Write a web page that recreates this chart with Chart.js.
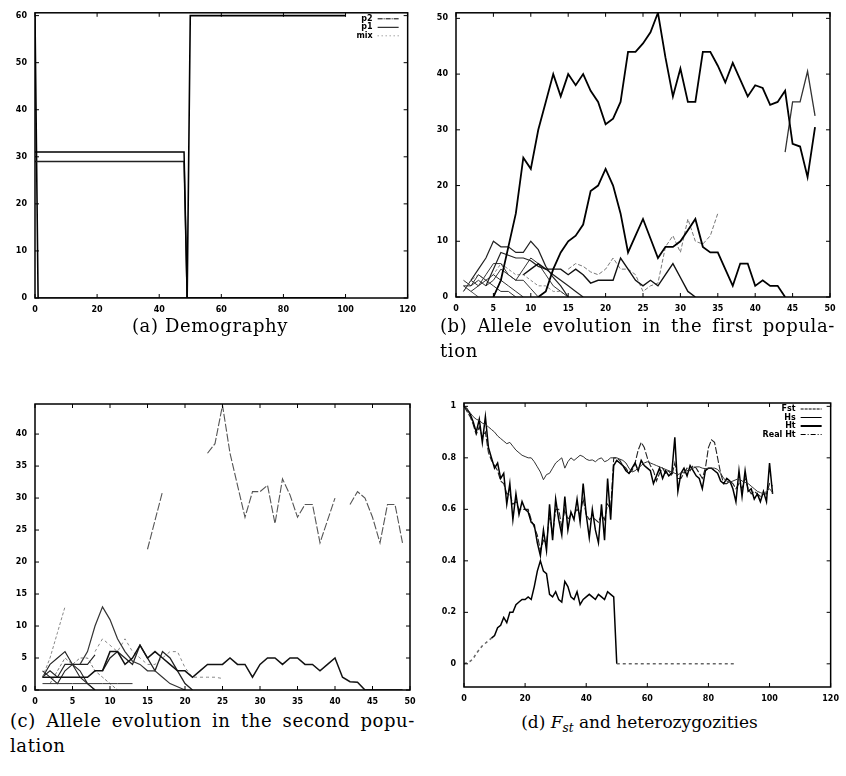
<!DOCTYPE html>
<html>
<head>
<meta charset="utf-8">
<script src="https://cdn.jsdelivr.net/npm/chart.js@4.4.1/dist/chart.umd.min.js"></script>
<style>
  body { margin: 0; background: #fff; width: 846px; height: 776px; position: relative; overflow: hidden; }
  .box { position: absolute; width: 423px; height: 318px; }
  .cap { position: absolute; font-family: 'DejaVu Serif', serif; font-size: 18px; line-height: 25px; color: #000; letter-spacing: 0.6px; }
  .just { text-align: justify; text-align-last: justify; }
</style>
</head>
<body>
<div class="box" style="left:0;top:0"><canvas id="chartA" width="423" height="318"></canvas></div>
<div class="box" style="left:423px;top:0"><canvas id="chartB" width="423" height="318"></canvas></div>
<div class="box" style="left:0;top:390px"><canvas id="chartC" width="423" height="318"></canvas></div>
<div class="box" style="left:423px;top:390px"><canvas id="chartD" width="423" height="318"></canvas></div>

<div class="cap" style="left:0;top:313px;width:420px;text-align:center">(a) Demography</div>
<div class="cap" style="left:440px;top:313px;width:395px">
  <div class="just">(b) Allele evolution in the first popula-</div>
  <div>tion</div>
</div>
<div class="cap" style="left:10px;top:708px;width:405px">
  <div class="just">(c) Allele evolution in the second popu-</div>
  <div>lation</div>
</div>
<div class="cap" style="left:428px;top:710px;width:423px;text-align:center;font-size:17px;letter-spacing:0">(d) <i>F<sub style="font-size:12px">st</sub></i> and heterozygozities</div>

<script>
const _ = null;

// (a) demography: step values at the generations where they change
const aGen = [0, 48, 49, 100];
const aP2 = [31, 31, 0, 0];
const aP1 = [29, 29, 0, 0];
const aMixGen = [0, 1, 49, 50, 100];
const aMix = [60, 0, 0, 60, 60];
const aXTicks = [0, 20, 40, 60, 80, 100, 120];
const aYTicks = [0, 10, 20, 30, 40, 50, 60];

// (b) allele counts in the first population, index = generation
const bMain = [_,_,_,_,_,0,3,9,15,25,23,30,35,40,36,40,38,40,37,35,31,32,35,44,44,45.5,47.5,51,43,36,41,35,35,44,44,41.5,38.5,42,39,36,38,37.5,34.5,35,37,27.5,27,21.5,30.5];
const bTail = [_,_,_,_,_,_,_,_,_,_,_,_,_,_,_,_,_,_,_,_,_,_,_,_,_,_,_,_,_,_,_,_,_,_,_,_,_,_,_,_,_,_,_,_,26,35,35,40.5,32.5];
const bSecond = [_,_,_,_,_,_,_,_,_,_,_,0,1,5,8,10,11,13,19,20,23,20,15,8,11,14,10.5,7,9,9,10,12,14,9,8,8,5,2,6,6,2,3,2,2,0];
const bLow1 = [_,_,_,_,_,_,_,_,_,4,5,6,5,5,5,4,5,4,2.5,3,3,3,7,5,3,2,3,2,4,6,3.5,1,0];
const bLow2 = [_,_,3,5,7,10,9,9,8,8,10,8.5,5.5,3.5,2,0];
const bLow3 = [_,_,_,_,_,_,_,_,_,_,_,_,_,_,_,5,6,5.5,4.5,4,5,7,5,5,4,1,2,2.5,9,11,8,14,10,9.5,11,15];
const bLow4 = [_,_,_,_,2,5,8,7.5,7,7,6.5,5.5,5,4,3,2,1,0];
const bLow5 = [_,1,3,2,4,6,6,4,3,3,1.5,0];
const bLow6 = [_,2,2,3,2,3,5,4,3,5,7,6,4,2,1,0];
const bLow7 = [_,2,1,2,3,4,3,2,1,0];
const bLow8 = [_,3,2,4,3,2,1,1,0];
const bLow9 = [_,1,3,4,3,4,6,5,4,4,3,2,2,1,1,0];
const bLow10 = [_,_,1,0];
const bXTicks = [0, 5, 10, 15, 20, 25, 30, 35, 40, 45, 50];
const bYTicks = [0, 10, 20, 30, 40, 50];

// (c) allele counts in the second population
const cTop = [_,_,_,_,_,_,_,_,_,_,_,_,_,_,_,22,26.5,31,_,_,_,_,_,37,38.5,44.5,37,32,27,31,31,32,26,33,30.5,27,29,29,23,26.5,30,_,29,31,30,27,23,29,29,23];
const cLong = [_,2,2,2,2,2,2,2,3,3,6,6,4,5,7,5,6,5,4,3,3,2,3,4,4,4,5,4,4,2,4,5,5,4,5,5,4,4,3,4,5,2,1.3,1.2,0,0,0,0,0,0];
const cPeak = [_,_,_,_,_,_,4,6,10,13,11,8,6,4.5,4,3,3,2,1,0.5,0];
const cMid = [_,_,_,_,_,_,_,_,_,3,5,6,5,4,7,5,3,6,5,3,1,0];
const cRise = [_,2,5,9,13];
const cLow1 = [_,2,3,2,4,4,4,4,5.5];
const cLow2 = [_,2,4,5,6,4,2,1,0];
const cLow3 = [_,1,1,1,1,1,1,1,1,1,1,1,1,1];
const cLow4 = [_,3,2,1,3,4,3,1,0];
const cLow5 = [_,_,1,3,5,4,5,5,3,2,1,0];
const cLow6 = [_,_,_,_,_,_,_,_,6,8,7,6,8,6,5,4,4,5,6,6,3.5,2,2,2,2,1.8];
const cXTicks = [0, 5, 10, 15, 20, 25, 30, 35, 40, 45, 50];
const cYTicks = [0, 5, 10, 15, 20, 25, 30, 35, 40];

// (d) Fst and heterozygosities, index = generation
const dFst = [
  0,0.005,0.01,0.02,0.04,0.055,0.07,0.08,0.09,0.1,
  0.11,0.14,0.15,0.18,0.16,0.2,0.2,0.23,0.24,0.25,
  0.25,0.26,0.25,0.3,0.36,0.4,0.36,0.35,0.27,0.26,
  0.28,0.25,0.24,0.32,0.3,0.26,0.25,0.28,0.23,0.25,
  0.26,0.27,0.26,0.25,0.27,0.26,0.25,0.28,0.27,0.26,
  0,0,0,0,0,0,0,0,0,0, 0,0,0,0,0,0,0,0,0,0,
  0,0,0,0,0,0,0,0,0,0, 0,0,0,0,0,0,0,0,0,0];
const dHs = [
  1,0.99,0.975,0.96,0.95,0.945,0.935,0.93,0.92,0.91,
  0.9,0.885,0.875,0.865,0.855,0.86,0.845,0.83,0.82,0.81,
  0.805,0.8,0.8,0.785,0.765,0.745,0.715,0.735,0.74,0.76,
  0.78,0.79,0.8,0.76,0.785,0.8,0.79,0.8,0.81,0.805,
  0.795,0.79,0.792,0.785,0.795,0.8,0.785,0.79,0.8,0.8,
  0.8,0.795,0.79,0.78,0.76,0.745,0.75,0.76,0.77,0.78,
  0.785,0.78,0.775,0.77,0.765,0.76,0.755,0.75,0.745,0.74,
  0.735,0.74,0.745,0.75,0.755,0.76,0.765,0.765,0.76,0.758,
  0.76,0.76,0.76,0.755,0.74,0.72,0.71,0.705,0.71,0.715,
  0.72,0.71,0.705,0.7,0.69,0.68,0.67,0.665,0.66,0.67,
  0.68,0.665];
const dHt = [
  1,0.99,0.97,0.94,0.9,0.95,0.86,0.96,0.84,0.8,
  0.76,0.78,0.72,0.74,0.62,0.7,0.56,0.66,0.58,0.63,
  0.6,0.59,0.55,0.54,0.47,0.42,0.52,0.44,0.62,0.48,
  0.64,0.56,0.5,0.65,0.52,0.59,0.56,0.64,0.55,0.7,
  0.58,0.49,0.6,0.52,0.47,0.62,0.48,0.72,0.56,0.77,
  0.79,0.78,0.77,0.75,0.74,0.76,0.78,0.75,0.79,0.77,
  0.76,0.75,0.7,0.73,0.76,0.72,0.75,0.73,0.74,0.88,
  0.67,0.74,0.76,0.73,0.77,0.75,0.73,0.72,0.68,0.75,
  0.76,0.76,0.75,0.74,0.71,0.7,0.72,0.71,0.68,0.63,
  0.75,0.65,0.75,0.67,0.68,0.64,0.66,0.63,0.67,0.63,
  0.78,0.66];
const dRealHt = [
  1,0.98,0.96,0.93,0.89,0.92,0.88,0.9,0.82,0.79,
  0.77,0.75,0.71,0.7,0.66,0.66,0.62,0.63,0.6,0.6,
  0.6,0.6,0.56,0.53,0.5,0.44,0.48,0.47,0.58,0.5,
  0.6,0.6,0.53,0.6,0.56,0.58,0.58,0.6,0.58,0.64,
  0.58,0.56,0.57,0.56,0.55,0.58,0.56,0.62,0.6,0.8,
  0.8,0.79,0.77,0.76,0.74,0.75,0.78,0.83,0.86,0.84,
  0.8,0.77,0.75,0.71,0.74,0.76,0.74,0.75,0.73,0.78,
  0.72,0.72,0.74,0.76,0.75,0.77,0.76,0.74,0.72,0.76,
  0.84,0.87,0.86,0.8,0.74,0.7,0.7,0.71,0.7,0.68,
  0.7,0.68,0.72,0.68,0.66,0.67,0.66,0.65,0.66,0.66,
  0.7,0.69];
const dXTicks = [0, 20, 40, 60, 80, 100, 120];
const dYTicks = [0, 0.2, 0.4, 0.6, 0.8, 1];

const tickFont = { family: 'DejaVu Sans', size: 8, weight: 'bold' };

function pts(arr) {
  return arr.map((y, x) => ({ x: x, y: y }));
}

function pairs(xs, ys) {
  return xs.map((x, i) => ({ x: x, y: ys[i] }));
}

function line(data, color, width, dash) {
  return { data: data, borderColor: color, borderWidth: width, borderDash: dash || [],
           pointRadius: 0, tension: 0, fill: false, spanGaps: false };
}

// gnuplot style box, inward tick marks and key in the top right corner
const gnuFrame = {
  id: 'gnuFrame',
  afterDraw(chart, args, opts) {
    const ctx = chart.ctx, a = chart.chartArea, sx = chart.scales.x, sy = chart.scales.y;
    ctx.save();
    ctx.strokeStyle = '#000';
    ctx.lineWidth = 1.5;
    ctx.setLineDash([]);
    ctx.strokeRect(a.left, a.top, a.right - a.left, a.bottom - a.top);
    ctx.lineWidth = 1;
    ctx.beginPath();
    sx.ticks.forEach(t => {
      const p = sx.getPixelForValue(t.value);
      ctx.moveTo(p, a.bottom); ctx.lineTo(p, a.bottom - 4);
      ctx.moveTo(p, a.top); ctx.lineTo(p, a.top + 4);
    });
    sy.ticks.forEach(t => {
      const p = sy.getPixelForValue(t.value);
      ctx.moveTo(a.left, p); ctx.lineTo(a.left + 4, p);
      ctx.moveTo(a.right, p); ctx.lineTo(a.right - 4, p);
    });
    ctx.stroke();
    (opts.items || []).forEach((it, i) => {
      const y = a.top + 6 + i * 8.5;
      ctx.fillStyle = '#000';
      ctx.font = 'bold 8px "DejaVu Sans"';
      ctx.textAlign = 'right';
      ctx.textBaseline = 'middle';
      ctx.fillText(it.label, a.right - 35, y);
      ctx.strokeStyle = it.color || '#000';
      ctx.lineWidth = it.width;
      ctx.setLineDash(it.dash);
      ctx.beginPath();
      ctx.moveTo(a.right - 30, y);
      ctx.lineTo(a.right - 9, y);
      ctx.stroke();
    });
    ctx.restore();
  }
};

function axis(min, max, ticks, fitFn, pad) {
  return {
    type: 'linear', min: min, max: max,
    grid: { display: false, drawTicks: false },
    border: { display: false },
    afterBuildTicks: s => { s.ticks = ticks.map(v => ({ value: v })); },
    afterFit: fitFn,
    ticks: { font: tickFont, color: '#000', padding: pad, maxRotation: 0, autoSkip: false,
             callback: v => String(+v.toFixed(2)) }
  };
}

function makeChart(id, datasets, xr, yr, lay, items) {
  new Chart(document.getElementById(id), {
    type: 'line',
    data: { datasets: datasets },
    options: {
      responsive: false,
      animation: false,
      layout: { padding: { top: lay.top, right: lay.right, left: 0, bottom: 0 } },
      scales: {
        x: axis(xr[0], xr[1], xr[2], s => { s.height = lay.xh; }, 7),
        y: axis(yr[0], yr[1], yr[2], s => { s.width = lay.yw; }, 8)
      },
      plugins: { legend: { display: false }, tooltip: { enabled: false }, gnuFrame: { items: items } }
    },
    plugins: [gnuFrame]
  });
}

makeChart('chartA', [
  line(pairs(aGen, aP2), '#000', 1.5),
  line(pairs(aGen, aP1), '#222', 1.5),
  line(pairs(aMixGen, aMix), '#000', 1.6)
], [0, 120, aXTicks], [0, 60.6, aYTicks], { top: 12, right: 14, xh: 20, yw: 35 }, [
  { label: 'p2', dash: [5, 1, 1, 1], width: 1 },
  { label: 'p1', dash: [], width: 1 },
  { label: 'mix', dash: [1, 3], width: 1, color: '#777' }
]);

makeChart('chartB', [
  line(pts(bMain), '#000', 1.8),
  line(pts(bTail), '#333', 1.3),
  line(pts(bSecond), '#000', 1.8),
  line(pts(bLow1), '#111', 1.4),
  line(pts(bLow2), '#222', 1.2),
  line(pts(bLow3), '#777', 1, [4, 2]),
  line(pts(bLow4), '#222', 1.2),
  line(pts(bLow5), '#333', 1),
  line(pts(bLow6), '#333', 1),
  line(pts(bLow7), '#333', 1),
  line(pts(bLow8), '#333', 1),
  line(pts(bLow9), '#888', 1, [3, 2]),
  line(pts(bLow10), '#555', 1)
], [0, 50, bXTicks], [0, 51, bYTicks], { top: 10, right: 16, xh: 21, yw: 33 });

makeChart('chartC', [
  line(pts(cTop), '#555', 1.1, [8, 2]),
  line(pts(cLong), '#111', 1.5),
  line(pts(cPeak), '#333', 1.2),
  line(pts(cMid), '#222', 1.3),
  line(pts(cRise), '#888', 1, [3, 2]),
  line(pts(cLow1), '#222', 1.1),
  line(pts(cLow2), '#222', 1.1),
  line(pts(cLow3), '#333', 1),
  line(pts(cLow4), '#222', 1.1),
  line(pts(cLow5), '#777', 1, [3, 2]),
  line(pts(cLow6), '#888', 1, [3, 3])
], [0, 50, cXTicks], [0, 44.7, cYTicks], { top: 14, right: 13, xh: 18, yw: 35 });

const fst = line(pts(dFst), '#000', 1.5);
fst.segment = {
  borderDash: c => (c.p0.parsed.x < 9 || c.p0.parsed.x >= 50) ? [3, 3] : undefined,
  borderColor: c => (c.p0.parsed.x < 9 || c.p0.parsed.x >= 50) ? '#666' : undefined
};

makeChart('chartD', [
  fst,
  line(pts(dHs), '#333', 1),
  line(pts(dHt), '#000', 1.5),
  line(pts(dRealHt), '#222', 1.1, [7, 2])
], [0, 120, dXTicks], [-0.09, 1.013, dYTicks], { top: 13, right: 14, xh: 21, yw: 41 }, [
  { label: 'Fst', dash: [3, 1], width: 1 },
  { label: 'Hs', dash: [], width: 1 },
  { label: 'Ht', dash: [], width: 2 },
  { label: 'Real Ht', dash: [5, 2, 1, 2], width: 1 }
]);
</script>
</body>
</html>
